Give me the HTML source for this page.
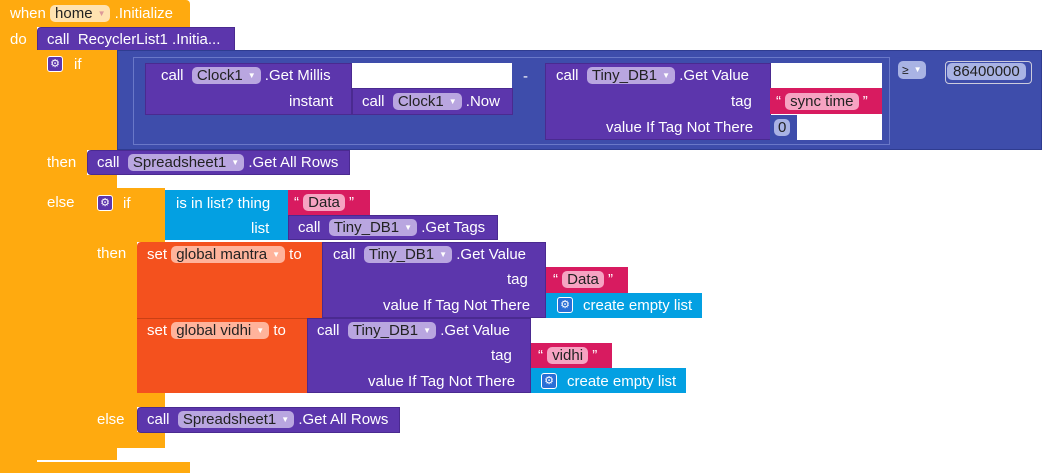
<!DOCTYPE html>
<html><head><meta charset="utf-8"><style>
body{margin:0;width:1042px;height:473px;background:#fff;position:relative;overflow:hidden;font-family:"Liberation Sans",sans-serif;font-size:15px;color:#fff}
.b{position:absolute;box-sizing:border-box}
.o{background:#FFAA0F}
.p{background:#5C36AC;border:1px solid #4a2a90}
.bl{background:#3E4DAB}
.r{background:#D81B60}
.c{background:#03A0E2}
.s{background:#F4511E}
.w{background:#fff}
.t{position:absolute;white-space:nowrap;line-height:17px}
.pill{display:inline-block;border-radius:5px;padding:0 5px;color:#222;line-height:17px}
.pp{background:#B9A6E0}.po{background:#FFE2B0}.pr{background:#F6A3C2}.ps{background:#FFB39B}.pb{background:#A9B3E4}
.ar{font-size:8px;vertical-align:2px;color:#fff;margin-left:5px}
.gear{position:absolute;width:16px;height:16px;border-radius:3px;background:#5C36AC;border:1px solid #fff;box-sizing:border-box;color:#fff;font-size:11px;line-height:14px;text-align:center}
</style></head><body>
<!-- event -->
<div class="b o" style="left:0;top:0;width:190px;height:27px;border-radius:4px 4px 0 0"></div>
<div class="b o" style="left:0;top:0;width:37px;height:473px"></div>
<div class="b o" style="left:0;top:462px;width:190px;height:11px"></div>
<div class="t" style="left:10px;top:5px">when <span class="pill po">home<span class="ar" style="color:#d99">▼</span></span> .Initialize</div>
<div class="t" style="left:10px;top:31px">do</div>
<div class="b p" style="left:37px;top:27px;width:198px;height:24px;border-radius:4px 0 0 0"></div>
<div class="t" style="left:47px;top:31px">call&nbsp; RecyclerList1 .Initia...</div>
<!-- outer if -->
<div class="b o" style="left:37px;top:50px;width:80px;height:100px"></div>
<div class="b o" style="left:37px;top:150px;width:50px;height:310px"></div>
<div class="b o" style="left:37px;top:448px;width:80px;height:12px"></div>
<div class="b o" style="left:87px;top:175px;width:30px;height:13px"></div>
<div class="gear" style="left:47px;top:56px">⚙</div>
<div class="t" style="left:74px;top:56px">if</div>
<div class="t" style="left:47px;top:154px">then</div>
<div class="t" style="left:47px;top:194px">else</div>
<!-- compare -->
<div class="b bl" style="left:117px;top:50px;width:925px;height:100px;border:1px solid #2f3c90"></div>
<div class="b bl" style="left:133px;top:57px;width:757px;height:88px;border:1px solid #6a78c8"></div>
<div class="b w" style="left:352px;top:63px;width:160px;height:26px"></div>
<div class="b p" style="left:145px;top:63px;width:207px;height:52px"></div>
<div class="t" style="left:161px;top:67px">call&nbsp; <span class="pill pp">Clock1<span class="ar">▼</span></span> .Get Millis</div>
<div class="t" style="left:289px;top:93px">instant</div>
<div class="b p" style="left:352px;top:88px;width:161px;height:27px"></div>
<div class="t" style="left:362px;top:93px">call&nbsp; <span class="pill pp">Clock1<span class="ar">▼</span></span> .Now</div>
<div class="t" style="left:523px;top:68px">-</div>
<div class="b w" style="left:770px;top:63px;width:112px;height:77px"></div>
<div class="b p" style="left:545px;top:63px;width:226px;height:77px"></div>
<div class="t" style="left:556px;top:67px">call&nbsp; <span class="pill pp">Tiny_DB1<span class="ar">▼</span></span> .Get Value</div>
<div class="t" style="left:731px;top:93px">tag</div>
<div class="t" style="left:606px;top:119px">value If Tag Not There</div>
<div class="b r" style="left:770px;top:88px;width:112px;height:26px"></div>
<div class="t" style="left:776px;top:93px">“ <span class="pill pr">sync time</span> ”</div>
<div class="b bl" style="left:770px;top:115px;width:27px;height:25px"></div>
<div class="t" style="left:774px;top:119px"><span class="pill pb" style="padding:0 4px">0</span></div>
<div class="t" style="left:898px;top:61px"><span class="pill pb" style="padding:0 4px;font-size:12px">≥<span class="ar">▼</span></span></div>
<div class="b" style="left:945px;top:61px;width:87px;height:23px;border:1px solid #ccd;border-radius:4px"></div>
<div class="t" style="left:947px;top:63px"><span class="pill pb" style="padding:0 6px">86400000</span></div>
<!-- then call -->
<div class="b p" style="left:87px;top:150px;width:263px;height:25px;border-radius:4px 0 0 4px"></div>
<div class="t" style="left:97px;top:154px">call&nbsp; <span class="pill pp">Spreadsheet1<span class="ar">▼</span></span> .Get All Rows</div>
<!-- inner if -->
<div class="b o" style="left:87px;top:188px;width:78px;height:54px;border-radius:4px 0 0 0"></div>
<div class="b o" style="left:87px;top:188px;width:50px;height:260px"></div>
<div class="b o" style="left:87px;top:393px;width:78px;height:14px"></div>
<div class="b o" style="left:87px;top:432px;width:78px;height:16px"></div>
<div class="gear" style="left:97px;top:195px">⚙</div>
<div class="t" style="left:123px;top:195px">if</div>
<div class="t" style="left:97px;top:245px">then</div>
<div class="t" style="left:97px;top:411px">else</div>
<div class="b c" style="left:165px;top:190px;width:125px;height:50px"></div>
<div class="t" style="left:176px;top:195px">is in list? thing</div>
<div class="t" style="left:251px;top:220px">list</div>
<div class="b r" style="left:288px;top:190px;width:82px;height:25px"></div>
<div class="t" style="left:294px;top:194px">“ <span class="pill pr">Data</span> ”</div>
<div class="b p" style="left:288px;top:215px;width:210px;height:25px"></div>
<div class="t" style="left:298px;top:219px">call&nbsp; <span class="pill pp">Tiny_DB1<span class="ar">▼</span></span> .Get Tags</div>
<!-- set mantra -->
<div class="b s" style="left:137px;top:242px;width:186px;height:76px;border-radius:4px 0 0 0"></div>
<div class="t" style="left:147px;top:246px">set <span class="pill ps">global mantra<span class="ar">▼</span></span> to</div>
<div class="b p" style="left:322px;top:242px;width:224px;height:76px"></div>
<div class="t" style="left:333px;top:246px">call&nbsp; <span class="pill pp">Tiny_DB1<span class="ar">▼</span></span> .Get Value</div>
<div class="t" style="left:507px;top:271px">tag</div>
<div class="t" style="left:383px;top:297px">value If Tag Not There</div>
<div class="b r" style="left:546px;top:267px;width:82px;height:26px"></div>
<div class="t" style="left:553px;top:271px">“ <span class="pill pr">Data</span> ”</div>
<div class="b c" style="left:546px;top:293px;width:156px;height:25px"></div>
<div class="gear" style="left:557px;top:297px;background:#2a6fd6">⚙</div>
<div class="t" style="left:583px;top:297px">create empty list</div>
<!-- set vidhi -->
<div class="b s" style="left:137px;top:318px;width:171px;height:75px;border-top:1px solid #c94015"></div>
<div class="t" style="left:147px;top:322px">set <span class="pill ps">global vidhi<span class="ar">▼</span></span> to</div>
<div class="b p" style="left:307px;top:318px;width:224px;height:75px"></div>
<div class="t" style="left:317px;top:322px">call&nbsp; <span class="pill pp">Tiny_DB1<span class="ar">▼</span></span> .Get Value</div>
<div class="t" style="left:491px;top:347px">tag</div>
<div class="t" style="left:368px;top:373px">value If Tag Not There</div>
<div class="b r" style="left:531px;top:343px;width:81px;height:25px"></div>
<div class="t" style="left:538px;top:347px">“ <span class="pill pr">vidhi</span> ”</div>
<div class="b c" style="left:531px;top:368px;width:155px;height:25px"></div>
<div class="gear" style="left:541px;top:373px;background:#2a6fd6">⚙</div>
<div class="t" style="left:567px;top:373px">create empty list</div>
<!-- else call -->
<div class="b p" style="left:137px;top:407px;width:263px;height:26px;border-radius:4px 0 0 4px"></div>
<div class="t" style="left:147px;top:411px">call&nbsp; <span class="pill pp">Spreadsheet1<span class="ar">▼</span></span> .Get All Rows</div>
</body></html>
